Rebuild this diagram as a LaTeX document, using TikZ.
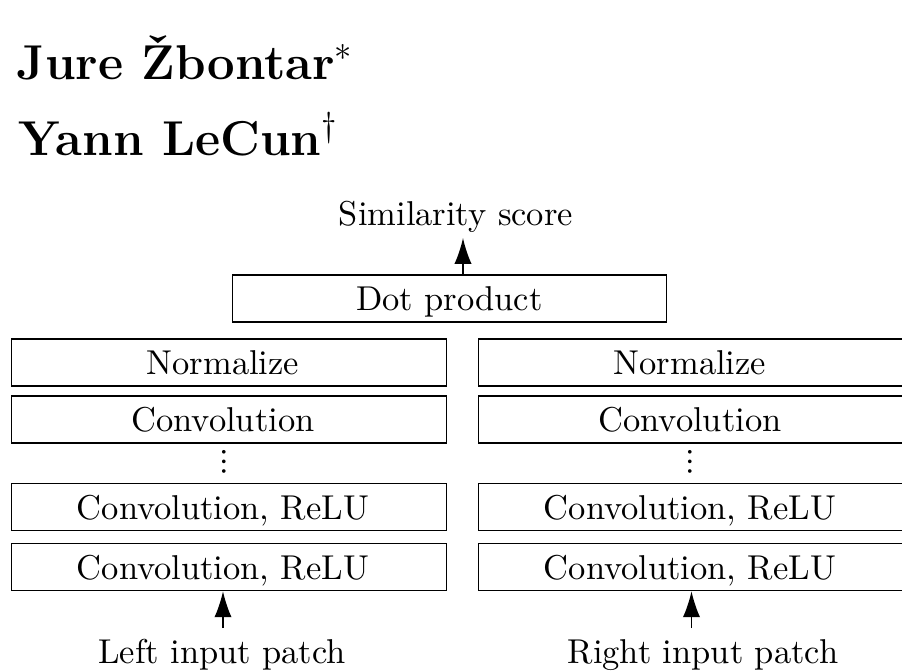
\documentclass[tikz,border=0pt]{standalone}
\usepackage{fontspec}
\usepackage{graphicx}
\newfontfamily\mathglyphs{Latin Modern Math}
\usetikzlibrary{arrows.meta}
\begin{document}
\begin{tikzpicture}[x=0.29pt,y=-0.29pt,
  box/.style={draw,line width=0.4pt,minimum width=126pt,minimum height=13.7pt,inner sep=0pt,text height=7.2pt,text depth=0pt},
  colbox/.style={box,execute at end node={\kern3.5pt}},
  lbl/.style={inner sep=0pt,anchor=base},
  titletext/.style={inner sep=0pt,anchor=base west,font=\fontsize{14.2pt}{17pt}\selectfont\bfseries},
  arr/.style={line width=0.4pt,-{Latex[length=7.5pt,width=5pt]}},
  vdts/.style={inner sep=0pt,font=\mathglyphs}]
\useasboundingbox (0,0) rectangle (902,671);
% titles
\node[titletext] (t1) at (16,79) {Jure Žbontar$^{*}$};
\node[titletext] (t2) at (18,155) {Yann LeCun$^{\dagger}$};
% top part
\node[lbl] (sim) at (456,225) {Similarity score};
\node[box] (dot) at (449.5,298.5) {Dot product};
% left column
\node[colbox] (nL) at (229,362.5) {Normalize};
\node[colbox] (cL) at (229,419.5) {Convolution};
\node[vdts] (dL) at (224,462) {⋮};
\node[colbox] (c2L) at (229,507) {Convolution, ReLU};
\node[colbox] (c1L) at (229,567) {Convolution, ReLU};
\node[lbl] (inL) at (222,663) {Left input patch};
% right column
\node[colbox] (nR) at (696,362.5) {Normalize};
\node[colbox] (cR) at (696,419.5) {Convolution};
\node[vdts] (dR) at (690,462) {⋮};
\node[colbox] (c2R) at (696,507) {Convolution, ReLU};
\node[colbox] (c1R) at (696,567) {Convolution, ReLU};
\node[lbl] (inR) at (703,663) {Right input patch};
% arrows
\coordinate (sa) at (463,238);
\draw[arr] (sa |- dot.north) -- (sa);
\coordinate (la) at (223,628);
\draw[arr] (la) -- (la |- c1L.south);
\coordinate (ra) at (691.5,628);
\draw[arr] (ra) -- (ra |- c1R.south);
\end{tikzpicture}
\end{document}
